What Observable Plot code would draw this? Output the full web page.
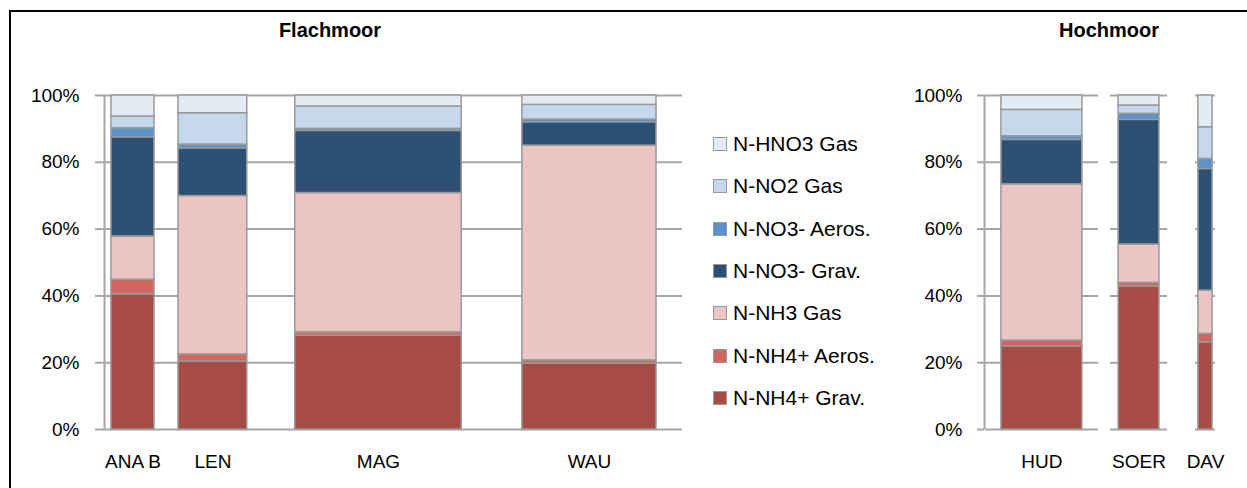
<!DOCTYPE html>
<html>
<head>
<meta charset="utf-8">
<script src="https://cdn.jsdelivr.net/npm/d3@7"></script>
<script src="https://cdn.jsdelivr.net/npm/@observablehq/plot@0.6"></script>
<style>
  html, body { margin: 0; padding: 0; background: white; }
  body { width: 1247px; height: 488px; position: relative; overflow: hidden; font-family: "Liberation Sans", Arial, sans-serif; }
  .abs { position: absolute; }
  .title { position: absolute; font-weight: bold; font-size: 20px; color: #000; transform: translateX(-50%); white-space: nowrap; }
  .frame { position: absolute; left: 9px; top: 10px; width: 1400px; height: 700px; border-left: 2px solid #000; border-top: 2px solid #000; pointer-events: none; z-index: 5; }
  .leg-item { position: absolute; left: 713px; height: 24px; display: flex; align-items: center; font-size: 21px; color: #000; white-space: nowrap; }
  .leg-sw { width: 12px; height: 12px; border: 1px solid #9a9a9a; margin-right: 6px; }
</style>
</head>
<body>
<div id="left" class="abs" style="left:0;top:0"></div>
<div id="right" class="abs" style="left:880px;top:0"></div>
<div id="legend"></div>
<div class="title" style="left:330px;top:19px">Flachmoor</div>
<div class="title" style="left:1109px;top:19px">Hochmoor</div>
<div class="frame"></div>
<script>
// ---- data ----
const sites  = ["ANA B", "LEN", "MAG", "WAU", "HUD", "SOER", "DAV"];
const panels = ["Flachmoor", "Flachmoor", "Flachmoor", "Flachmoor", "Hochmoor", "Hochmoor", "Hochmoor"];
// bar extents along each panel's x axis (panel units 0–100)
const xStart = [1.2, 12.8, 33.0, 72.3, 7.3, 57.8, 92.2];
const xEnd   = [8.65, 24.7, 61.8, 95.5, 42.2, 75.4, 98.3];

// series values (% share), bottom to top
const nh4Grav  = [40.5, 20.4, 28.1, 19.7, 24.9, 42.8, 26.1];
const nh4Aeros = [4.3, 2.1, 1.0, 1.0, 1.7, 1.1, 2.5];
const nh3Gas   = [13.0, 47.4, 41.7, 64.3, 46.8, 11.5, 13.0];
const no3Grav  = [29.7, 14.3, 18.6, 7.0, 13.3, 37.3, 36.4];
const no3Aeros = [2.7, 1.1, 0.6, 0.8, 1.1, 1.8, 3.0];
const no2Gas   = [3.5, 9.4, 6.7, 4.4, 7.9, 2.5, 9.5];
const hno3Gas  = [6.3, 5.3, 3.3, 2.8, 4.3, 3.0, 9.5];

const seriesNames = ["N-NH4+ Grav.", "N-NH4+ Aeros.", "N-NH3 Gas", "N-NO3- Grav.", "N-NO3- Aeros.", "N-NO2 Gas", "N-HNO3 Gas"];
const seriesValues = [nh4Grav, nh4Aeros, nh3Gas, no3Grav, no3Aeros, no2Gas, hno3Gas];
const seriesColors = ["#a64b45", "#cf6660", "#ebc5c4", "#2e5073", "#5b93cc", "#c4d7eb", "#e3ebf5"];

const yTicks = [0, 20, 40, 60, 80, 100];
const yTickLabels = ["0%", "20%", "40%", "60%", "80%", "100%"];

// ---- build table ----
const rows = [];
sites.forEach((s, i) => {
  let acc = 0;
  seriesNames.forEach((n, k) => {
    const v = seriesValues[k][i];
    rows.push({site: s, panel: panels[i], series: n, x1: xStart[i], x2: xEnd[i], y1: acc, y2: acc + v});
    acc += v;
  });
});
const siteRows = sites.map((s, i) => ({site: s, panel: panels[i], x1: xStart[i], x2: xEnd[i]}));

const GRID = "#a6a6a6";
const fontFamily = "'Liberation Sans', Arial, sans-serif";

function panelPlot(panel, opts) {
  const bars = rows.filter(d => d.panel === panel);
  const lab = siteRows.filter(d => d.panel === panel);
  const gridMarks = opts.segmentGrid
    ? [Plot.ruleY(lab.flatMap(d => yTicks.map(t => ({t, a: d.x1 - 0.2 * (d.x2 - d.x1), b: d.x2 + 0.2 * (d.x2 - d.x1)}))),
        {y: "t", x1: "a", x2: "b", stroke: GRID, strokeWidth: 2})]
    : [Plot.gridY(yTicks, {stroke: GRID, strokeOpacity: 1, strokeWidth: 2})];
  return Plot.plot({
    width: opts.width,
    height: 488,
    marginTop: 95,
    marginBottom: 59,
    marginLeft: 104,
    marginRight: opts.marginRight,
    style: {fontFamily, background: "transparent", overflow: "visible"},
    x: {domain: [0, 100], axis: null},
    y: {domain: [0, 100], axis: null},
    color: {domain: seriesNames, range: seriesColors},
    marks: [
      ...gridMarks,
      Plot.rect(bars, {x1: "x1", x2: "x2", y1: "y1", y2: "y2", fill: "series", stroke: "#999999", strokeWidth: 1.5}),
      Plot.ruleX([0], {stroke: GRID, strokeWidth: 2}),
      Plot.axisY(yTicks, {
        tickSize: opts.tickSize, tickPadding: opts.tickPadding,
        tickFormat: (d) => yTickLabels[yTicks.indexOf(d)],
        stroke: GRID, strokeWidth: 2, fill: "#000", fontSize: 19
      }),
      Plot.text(lab, {x: d => (d.x1 + d.x2) / 2, y: () => 0, dy: 32, text: "site", fontSize: 19, fill: "#000"})
    ]
  });
}

document.getElementById("left").appendChild(panelPlot("Flachmoor", {width: 700, marginRight: 18, tickSize: 9, tickPadding: 16, segmentGrid: false}));
document.getElementById("right").appendChild(panelPlot("Hochmoor", {width: 367, marginRight: 31, tickSize: 7, tickPadding: 15, segmentGrid: true}));

// ---- legend (top to bottom) ----
const legend = document.getElementById("legend");
const order = seriesNames.map((n, k) => k).reverse();
order.forEach((k, j) => {
  const item = document.createElement("div");
  item.className = "leg-item";
  item.style.top = (144 + 42.3 * j - 12) + "px";
  const sw = document.createElement("div");
  sw.className = "leg-sw";
  sw.style.background = seriesColors[k];
  const tx = document.createElement("span");
  tx.textContent = seriesNames[k];
  item.appendChild(sw);
  item.appendChild(tx);
  legend.appendChild(item);
});
</script>
</body>
</html>
